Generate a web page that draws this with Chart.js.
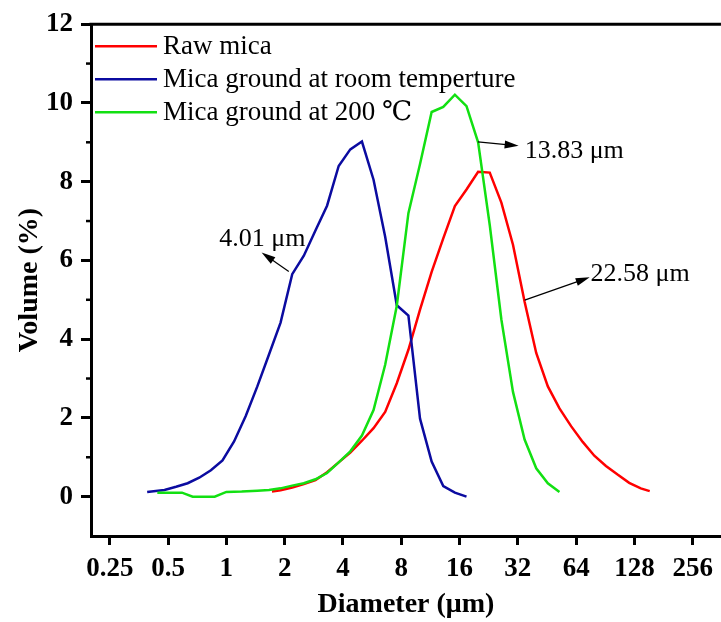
<!DOCTYPE html>
<html>
<head>
<meta charset="utf-8">
<title>index</title>
<script src="https://cdn.jsdelivr.net/npm/chart.js@4.4.0/dist/chart.umd.min.js"></script>
<style>
  body { margin: 0; background: #fff; }
  canvas { display: block; }
</style>
</head>
<body>
<canvas id="myChart" width="721" height="622"></canvas>
<script>
// Granulometrie du mica (volume % vs diametre)

const seriesNames = ["Raw mica", "Mica ground at room temperture", "Mica ground at 200 \u2103"];
const seriesColors = ["#ff0000", "#0b0ba0", "#12e012"];

const rawX = [1.72, 1.905, 2.188, 2.512, 2.884, 3.311, 3.802, 4.365, 5.012, 5.754, 6.607, 7.586, 8.710, 10.00, 11.482, 13.183, 15.136, 17.378, 19.953, 22.909, 26.303, 30.200, 34.674, 39.811, 45.709, 52.481, 60.256, 69.183, 79.433, 91.201, 104.713, 120.226, 138.038, 153.5];
const rawY = [0.13, 0.16, 0.23, 0.32, 0.42, 0.62, 0.87, 1.12, 1.42, 1.74, 2.15, 2.88, 3.73, 4.75, 5.71, 6.56, 7.38, 7.8, 8.25, 8.23, 7.47, 6.4, 4.95, 3.65, 2.8, 2.24, 1.79, 1.39, 1.04, 0.78, 0.56, 0.35, 0.21, 0.14];

const roomX = [0.39, 0.479, 0.550, 0.631, 0.724, 0.832, 0.955, 1.096, 1.259, 1.445, 1.660, 1.905, 2.188, 2.512, 2.884, 3.311, 3.802, 4.365, 5.012, 5.754, 6.607, 7.586, 8.710, 10.00, 11.482, 13.183, 15.136, 17.378];
const roomY = [0.12, 0.17, 0.25, 0.34, 0.48, 0.67, 0.92, 1.4, 2.05, 2.8, 3.61, 4.42, 5.65, 6.12, 6.76, 7.39, 8.4, 8.82, 9.02, 8.05, 6.6, 4.86, 4.6, 1.98, 0.89, 0.27, 0.1, 0.0];

const hotX = [0.44, 0.51, 0.59, 0.67, 0.77, 0.87, 1.0, 1.2, 1.445, 1.660, 1.905, 2.188, 2.512, 2.884, 3.311, 3.802, 4.365, 5.012, 5.754, 6.607, 7.586, 8.710, 10.00, 11.482, 13.183, 15.136, 17.378, 19.953, 22.909, 26.303, 30.200, 34.674, 39.811, 45.709, 52.481];
const hotY = [0.1, 0.1, 0.1, 0.0, 0.0, 0.0, 0.12, 0.13, 0.15, 0.17, 0.21, 0.28, 0.34, 0.44, 0.6, 0.87, 1.15, 1.55, 2.2, 3.35, 4.85, 7.2, 8.45, 9.77, 9.9, 10.21, 9.92, 9.0, 6.9, 4.5, 2.66, 1.45, 0.72, 0.34, 0.12];

const xTicks = [0.25, 0.5, 1, 2, 4, 8, 16, 32, 64, 128, 256];
const yTicks = [0, 2, 4, 6, 8, 10, 12];
const yMinor = [1, 3, 5, 7, 9, 11];

// diametres medians : texte, depart de la fleche, pointe, position du texte
const noteText = ["4.01 \u03bcm", "13.83 \u03bcm", "22.58 \u03bcm"];
const noteFrom = [[2.10, 5.72], [19.9, 9.01], [34.7, 4.99]];
const noteTo = [[1.52, 6.2], [32.3, 8.91], [75.2, 5.57]];
const noteAt = [[0.92, 6.53], [34.7, 8.78], [76, 5.65]];

const serif = '"Liberation Serif", "Times New Roman", "DejaVu Serif", "Noto Sans CJK SC", serif';

function toPoints(xs, ys) {
  return xs.map((x, i) => ({ x: x, y: ys[i] }));
}

const data = {
  datasets: [
    { label: seriesNames[0], data: toPoints(rawX, rawY), borderColor: seriesColors[0], order: 3 },
    { label: seriesNames[1], data: toPoints(roomX, roomY), borderColor: seriesColors[1], order: 2 },
    { label: seriesNames[2], data: toPoints(hotX, hotY), borderColor: seriesColors[2], order: 1 },
  ],
};

function arrow(ctx, x1, y1, x2, y2) {
  const a = Math.atan2(y2 - y1, x2 - x1);
  const c = Math.cos(a), s = Math.sin(a);
  ctx.beginPath();
  ctx.moveTo(x1, y1);
  ctx.lineTo(x2 - 10 * c, y2 - 10 * s);
  ctx.stroke();
  ctx.beginPath();
  ctx.moveTo(x2, y2);
  ctx.lineTo(x2 - 14 * c + 4 * s, y2 - 14 * s - 4 * c);
  ctx.lineTo(x2 - 14 * c - 4 * s, y2 - 14 * s + 4 * c);
  ctx.closePath();
  ctx.fill();
}

/* cadre, petites graduations, legende et annotations */
const decor = {
  id: "decor",
  afterDraw(chart) {
    const ctx = chart.ctx;
    const area = chart.chartArea;
    const xs = chart.scales.x;
    const ys = chart.scales.y;
    ctx.save();
    ctx.strokeStyle = "#000";
    ctx.fillStyle = "#000";

    ctx.lineWidth = 3;
    ctx.beginPath();
    ctx.moveTo(area.left - 1.5, area.top);
    ctx.lineTo(area.right, area.top);
    ctx.stroke();

    ctx.lineWidth = 2.5;
    yMinor.forEach((v) => {
      const py = ys.getPixelForValue(v);
      ctx.beginPath();
      ctx.moveTo(area.left - 5, py);
      ctx.lineTo(area.left, py);
      ctx.stroke();
    });

    // legende
    ctx.font = "27px " + serif;
    ctx.textAlign = "left";
    ctx.textBaseline = "middle";
    seriesNames.forEach((name, i) => {
      const py = area.top + 22 + i * 33;
      ctx.strokeStyle = seriesColors[i];
      ctx.lineWidth = 2.5;
      ctx.beginPath();
      ctx.moveTo(area.left + 4, py);
      ctx.lineTo(area.left + 66, py);
      ctx.stroke();
      ctx.fillStyle = "#000";
      ctx.fillText(name, area.left + 72, py + 1);
    });

    // annotations
    ctx.font = "26px " + serif;
    ctx.strokeStyle = "#000";
    ctx.fillStyle = "#000";
    ctx.lineWidth = 1.2;
    noteText.forEach((txt, i) => {
      arrow(ctx,
        xs.getPixelForValue(noteFrom[i][0]), ys.getPixelForValue(noteFrom[i][1]),
        xs.getPixelForValue(noteTo[i][0]), ys.getPixelForValue(noteTo[i][1]));
      ctx.fillText(txt, xs.getPixelForValue(noteAt[i][0]), ys.getPixelForValue(noteAt[i][1]));
    });
    ctx.restore();
  },
};

const config = {
  type: "line",
  data: data,
  options: {
    responsive: false,
    animation: false,
    devicePixelRatio: 1,
    layout: { padding: { top: 21, right: 0, left: 0, bottom: 0 } },
    elements: {
      point: { radius: 0 },
      line: { borderWidth: 2.5, tension: 0 },
    },
    plugins: {
      legend: { display: false },
      tooltip: { enabled: false },
    },
    scales: {
      x: {
        type: "logarithmic",
        min: 0.2,
        max: 358,
        afterBuildTicks: (scale) => {
          scale.ticks = xTicks.map((v) => ({ value: v }));
        },
        afterFit: (scale) => {
          scale.height = 86;
        },
        ticks: {
          color: "#000",
          font: { family: serif, size: 27, weight: "bold" },
          padding: 8,
          maxRotation: 0,
          autoSkip: false,
          callback: (v) => String(v),
        },
        grid: { drawOnChartArea: false, tickLength: 9, tickWidth: 3, tickColor: "#000" },
        border: { display: true, color: "#000", width: 3 },
        title: {
          display: true,
          text: "Diameter (\u03bcm)",
          color: "#000",
          font: { family: serif, size: 28, weight: "bold" },
          padding: { top: 0, bottom: 0 },
        },
      },
      y: {
        type: "linear",
        min: -1,
        max: 12,
        afterBuildTicks: (scale) => {
          scale.ticks = yTicks.map((v) => ({ value: v }));
        },
        afterFit: (scale) => {
          scale.width = 91;
        },
        ticks: {
          color: "#000",
          font: { family: serif, size: 27, weight: "bold" },
          padding: 8,
        },
        grid: { drawOnChartArea: false, tickLength: 10, tickWidth: 3, tickColor: "#000" },
        border: { display: true, color: "#000", width: 3 },
        title: {
          display: true,
          text: "Volume (%)",
          color: "#000",
          font: { family: serif, size: 28, weight: "bold" },
          padding: { top: 13, bottom: 0 },
        },
      },
    },
  },
  plugins: [decor],
};

/* Creation du graphique */
const context = document.getElementById("myChart").getContext("2d");
const chart = new Chart(context, config);
</script>
</body>
</html>
